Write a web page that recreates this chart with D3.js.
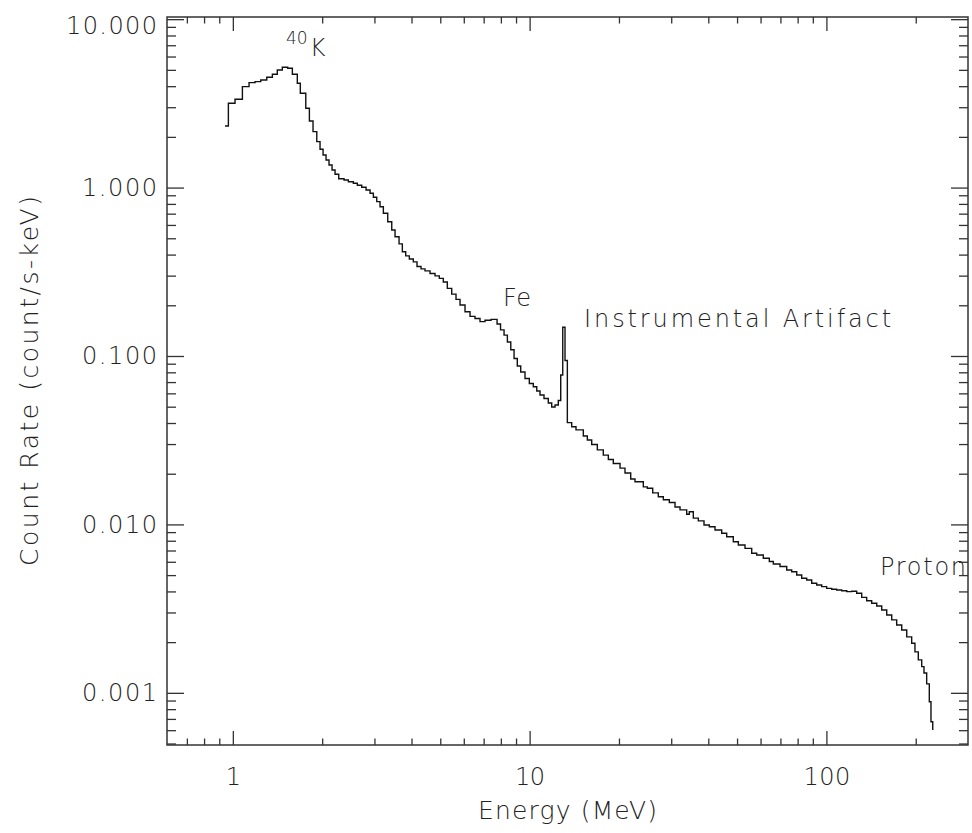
<!DOCTYPE html>
<html>
<head>
<meta charset="utf-8">
<script src="https://cdn.jsdelivr.net/npm/d3@7"></script>
<style>
  html, body { margin: 0; padding: 0; background: #ffffff; }
  svg { display: block; }
  text { font-family: "DejaVu Sans", "Liberation Sans", sans-serif; font-weight: 200; fill: #222; }
</style>
</head>
<body>
<svg id="chart" width="972" height="833"></svg>
<script>
// ---- Data ----
// Left edge of each energy bin (MeV)
const binEnergy = [0.941,0.966,1.017,1.077,1.134,1.188,1.242,1.301,1.359,1.412,
  1.468,1.531,1.587,1.649,1.688,1.761,1.811,1.863,1.918,1.967,
  2.014,2.061,2.109,2.159,2.210,2.274,2.370,2.450,2.547,2.627,
  2.718,2.811,2.900,2.975,3.054,3.133,3.215,3.326,3.431,3.520,
  3.631,3.725,3.824,3.933,4.056,4.174,4.306,4.442,4.618,4.800,
  4.963,5.119,5.281,5.464,5.649,5.828,6.058,6.298,6.546,6.806,
  7.074,7.413,7.768,7.980,8.201,8.415,8.640,8.863,9.088,9.333,
  9.648,9.977,10.29,10.57,10.84,11.18,11.56,11.87,12.18,12.49,
  12.73,12.93,13.16,13.40,13.86,14.33,15.17,15.65,16.19,16.91,
  17.71,18.42,19.14,20.17,20.96,21.91,22.65,24.16,24.92,25.99,
  27.14,28.22,29.56,30.90,32.12,33.83,34.52,35.61,37.02,38.69,
  40.32,42.14,44.38,46.14,48.57,50.50,53.18,56.02,58.24,61.30,
  64.22,66.25,69.78,73.50,76.41,79.43,82.57,85.84,89.24,92.77,
  96.43,100.2,104.2,108.3,112.6,117.1,121.7,126.5,131.5,136.7,
  142.1,147.8,153.6,159.7,166.0,172.5,179.4,186.5,193.8,198.8,
  204.0,209.5,213.2,217.7,222.2,225.1,228.2];
const lastBinEnd = 229.5;
// Count rate in each bin (count/s-keV)
const countRate = [2.322,3.167,3.344,3.974,4.197,4.255,4.355,4.519,4.708,4.993,
  5.182,5.110,4.708,4.163,3.631,2.957,2.486,2.148,1.874,1.688,
  1.562,1.458,1.362,1.272,1.200,1.129,1.110,1.084,1.061,1.032,
  1.004,0.968,0.925,0.876,0.825,0.770,0.704,0.627,0.560,0.511,
  0.463,0.416,0.393,0.377,0.362,0.340,0.329,0.320,0.309,0.299,
  0.289,0.275,0.252,0.233,0.217,0.201,0.183,0.172,0.167,0.160,
  0.163,0.165,0.155,0.143,0.133,0.121,0.109,0.0967,0.0872,0.0804,
  0.0735,0.0687,0.0657,0.0620,0.0587,0.0559,0.0526,0.0498,0.0512,0.0544,
  0.0771,0.148,0.0940,0.0402,0.0380,0.0364,0.0335,0.0317,0.0298,0.0277,
  0.0258,0.0243,0.0230,0.0216,0.0202,0.0186,0.0179,0.0167,0.0164,0.0154,
  0.0146,0.0140,0.0135,0.0127,0.0122,0.0115,0.0119,0.0109,0.0105,0.00992,
  0.00969,0.00926,0.00886,0.00845,0.00789,0.00754,0.00721,0.00674,0.00658,0.00629,
  0.00602,0.00582,0.00562,0.00536,0.00524,0.00501,0.00479,0.00468,0.00447,0.00437,
  0.00427,0.00417,0.00412,0.00408,0.00404,0.00399,0.00401,0.00390,0.00369,0.00352,
  0.00340,0.00328,0.00310,0.00290,0.00271,0.00253,0.00236,0.00215,0.00197,0.00175,
  0.00157,0.00143,0.00131,0.00113,0.000885,0.000674,0.000607];

// Axis domains and tick values
const xDomain = [0.6, 300];
const yDomain = [0.00049, 10.3];
const xMajorTicks = [1, 10, 100];
const xMinorTicks = [0.7,0.8,0.9, 2,3,4,5,6,7,8,9, 20,30,40,50,60,70,80,90, 200];
const yMajorTicks = [0.001, 0.01, 0.1, 1, 10];
const yMinorTicks = [0.0005,0.0006,0.0007,0.0008,0.0009,
  0.002,0.003,0.004,0.005,0.006,0.007,0.008,0.009,
  0.02,0.03,0.04,0.05,0.06,0.07,0.08,0.09,
  0.2,0.3,0.4,0.5,0.6,0.7,0.8,0.9,
  2,3,4,5,6,7,8,9];

// Annotations (anchored in data coordinates)
const annotations = [
  { text: "Fe", e: 8.13, v: 0.198, len: 28 },
  { text: "Instrumental Artifact", e: 15.26, v: 0.1477, len: 307 },
  { text: "Proton", e: 151.6, v: 0.005006, len: 86 }
];
const kLabel = { sup: "40", main: "K", e: 1.511, v: 6.046 };

const xTitle = "Energy (MeV)";
const yTitle = "Count Rate (count/s-keV)";

// ---- Layout ----
const W = 972, H = 833;
const plot = { left: 167, right: 968, top: 17, bottom: 745 };
const FS = 24;

const svg = d3.select("#chart");
const x = d3.scaleLog().domain(xDomain).range([plot.left, plot.right]);
const y = d3.scaleLog().domain(yDomain).range([plot.bottom, plot.top]);

const axisColor = "#333";

function styleAxis(g) {
  g.select(".domain").remove();
  g.selectAll(".tick line").attr("stroke", axisColor).attr("stroke-width", 1.3);
  g.selectAll(".tick text").attr("fill", "#222").attr("font-size", FS)
    .attr("font-family", '"DejaVu Sans", "Liberation Sans", sans-serif').attr("font-weight", 200);
}

// bottom
const bottomAxis = svg.append("g").attr("transform", `translate(0,${plot.bottom})`)
  .call(d3.axisBottom(x).tickValues(xMajorTicks).tickSize(-14).tickPadding(23).tickFormat(d3.format("d")))
  .call(styleAxis);
bottomAxis.selectAll(".tick text")
  .attr("textLength", d => d === 1 ? null : (d === 10 ? 30 : 47))
  .attr("lengthAdjust", "spacing");
svg.append("g").attr("transform", `translate(0,${plot.bottom})`)
  .call(d3.axisBottom(x).tickValues(xMinorTicks).tickSize(-6.5).tickFormat(""))
  .call(styleAxis);
// top
svg.append("g").attr("transform", `translate(0,${plot.top})`)
  .call(d3.axisTop(x).tickValues(xMajorTicks).tickSize(-14).tickFormat(""))
  .call(styleAxis);
svg.append("g").attr("transform", `translate(0,${plot.top})`)
  .call(d3.axisTop(x).tickValues(xMinorTicks).tickSize(-6.5).tickFormat(""))
  .call(styleAxis);
// left
const leftAxis = svg.append("g").attr("transform", `translate(${plot.left},0)`)
  .call(d3.axisLeft(y).tickValues(yMajorTicks).tickSize(-17).tickPadding(10).tickFormat(d3.format(".3f")))
  .call(styleAxis);
leftAxis.selectAll(".tick text")
  .attr("textLength", d => d === 10 ? 91 : 75)
  .attr("lengthAdjust", "spacing");
// keep top label inside the frame like the original
leftAxis.selectAll(".tick text").filter(d => d === 10).attr("dy", "0.65em").attr("y", -1);
svg.append("g").attr("transform", `translate(${plot.left},0)`)
  .call(d3.axisLeft(y).tickValues(yMinorTicks).tickSize(-9).tickFormat(""))
  .call(styleAxis);
// right
svg.append("g").attr("transform", `translate(${plot.right},0)`)
  .call(d3.axisRight(y).tickValues(yMajorTicks).tickSize(-17).tickFormat(""))
  .call(styleAxis);
svg.append("g").attr("transform", `translate(${plot.right},0)`)
  .call(d3.axisRight(y).tickValues(yMinorTicks).tickSize(-9).tickFormat(""))
  .call(styleAxis);

// frame
svg.append("rect")
  .attr("x", plot.left).attr("y", plot.top)
  .attr("width", plot.right - plot.left).attr("height", plot.bottom - plot.top)
  .attr("fill", "none").attr("stroke", axisColor).attr("stroke-width", 1.5);

// spectrum (histogram steps)
const pts = binEnergy.map((e, i) => [e, countRate[i]]);
pts.push([lastBinEnd, countRate[countRate.length - 1]]);
svg.append("path")
  .datum(pts)
  .attr("fill", "none")
  .attr("stroke", "#111")
  .attr("stroke-width", 1.4)
  .attr("d", d3.line().curve(d3.curveStepAfter).x(d => x(d[0])).y(d => y(d[1])));

// annotations
annotations.forEach(a => {
  svg.append("text")
    .attr("x", x(a.e)).attr("y", y(a.v))
    .attr("font-size", FS)
    .attr("textLength", a.len).attr("lengthAdjust", "spacing")
    .text(a.text);
});
const kt = svg.append("text").attr("x", x(kLabel.e)).attr("y", y(kLabel.v)).attr("font-size", FS);
kt.append("tspan").attr("font-size", 17).attr("dy", -12).text(kLabel.sup);
kt.append("tspan").attr("dy", 12).attr("dx", 2).text(kLabel.main);

// axis titles
svg.append("text")
  .attr("x", (plot.left + plot.right) / 2).attr("y", 819)
  .attr("text-anchor", "middle").attr("font-size", 25)
  .attr("textLength", 179).attr("lengthAdjust", "spacing")
  .text(xTitle);
svg.append("text")
  .attr("transform", `translate(38,${(plot.top + plot.bottom) / 2}) rotate(-90)`)
  .attr("text-anchor", "middle").attr("font-size", 25)
  .attr("textLength", 370).attr("lengthAdjust", "spacing")
  .text(yTitle);
</script>
</body>
</html>
